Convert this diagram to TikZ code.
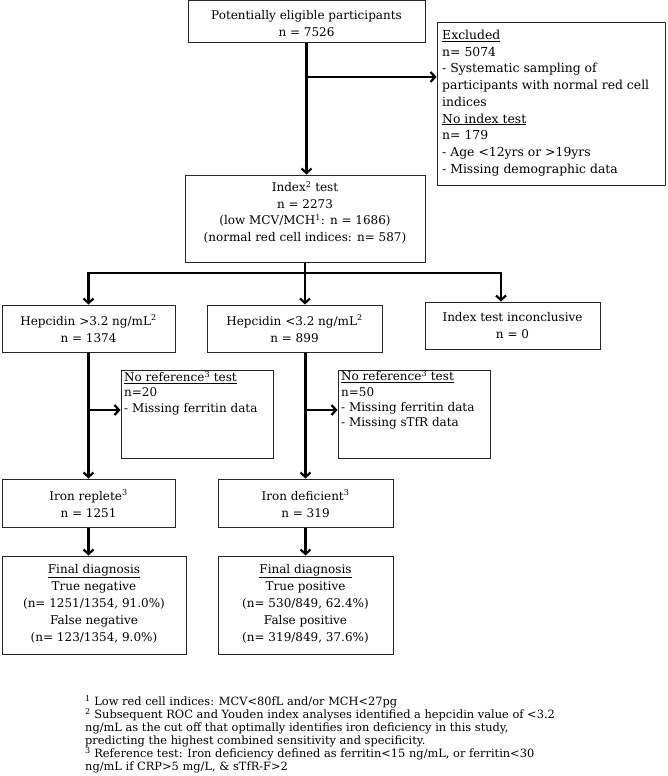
\documentclass[tikz,border=0pt]{standalone}
\usepackage{fontspec}
\setmainfont{DejaVu Serif}
\usetikzlibrary{arrows.meta,calc}
\begin{document}
\begin{tikzpicture}[x=1pt,y=-1pt,
  box/.style={draw=black!85, line width=1pt, inner sep=0pt, fill=white},
  txt/.style={inner sep=0pt, align=center, font=\fontsize{12}{17}\selectfont},
  ltxt/.style={inner sep=0pt, align=left, anchor=west},
  conn/.style={line width=2.2pt, line join=miter},
  arr/.style={conn, -{Straight Barb[length=4.5pt,width=10pt]}}]
\fill[white] (0,0) rectangle (667,776);
\useasboundingbox (0,0) rectangle (667,776);
% boxes
\node[box, minimum width=237pt, minimum height=42pt] (top)   at (306.5,22) {};
\node[box, minimum width=228pt, minimum height=162pt] (excl) at (551,104) {};
\node[box, minimum width=240pt, minimum height=87pt] (index) at (305,218.5) {};
\node[box, minimum width=173pt, minimum height=47pt] (hep1)  at (88.5,328.5) {};
\node[box, minimum width=175pt, minimum height=47pt] (hep2)  at (294.5,328.5) {};
\node[box, minimum width=175pt, minimum height=47pt] (inc)   at (512.5,325.5) {};
\node[box, minimum width=152pt, minimum height=88pt] (nr1)   at (197,414) {};
\node[box, minimum width=152pt, minimum height=88pt] (nr2)   at (414,414) {};
\node[box, minimum width=173pt, minimum height=48pt] (rep)   at (88.5,503) {};
\node[box, minimum width=175pt, minimum height=48pt] (def)   at (305.5,503) {};
\node[box, minimum width=184pt, minimum height=98pt] (fneg)  at (94,605) {};
\node[box, minimum width=175pt, minimum height=98pt] (fpos)  at (305.5,605) {};
% texts
\node[txt] (ttop) at (306.5,23.5) {Potentially eligible participants\\n = 7526};
\node[txt, ltxt, font=\fontsize{12.4}{16.75}\selectfont] (texcl) at (442,103)
  {\underline{Excluded}\\n= 5074\\- Systematic sampling of\\participants with normal red cell\\indices\\\underline{No index test}\\n= 179\\- Age <12yrs or >19yrs\\- Missing demographic data};
\node[txt, font=\fontsize{12}{16.5}\selectfont] (tindex) at (305,212.5)
  {Index\textsuperscript{2} test\\n = 2273\\(low MCV/MCH\textsuperscript{1}: n = 1686)\\(normal red cell indices: n= 587)};
\node[txt] (thep1) at (88.5,328.5) {Hepcidin >3.2 ng/mL\textsuperscript{2}\\n = 1374};
\node[txt] (thep2) at (294.5,328.5) {Hepcidin <3.2 ng/mL\textsuperscript{2}\\n = 899};
\node[txt] (tinc) at (512.5,325.5) {Index test inconclusive\\n = 0};
\node[txt, ltxt, font=\fontsize{12}{15.3}\selectfont] (tnr1) at (124,393)
  {\underline{No reference\textsuperscript{3} test}\\n=20\\- Missing ferritin data};
\node[txt, ltxt, font=\fontsize{12}{15.3}\selectfont] (tnr2) at (341,400)
  {\underline{No reference\textsuperscript{3} test}\\n=50\\- Missing ferritin data\\- Missing sTfR data};
\node[txt] (trep) at (88.5,503.5) {Iron replete\textsuperscript{3}\\n = 1251};
\node[txt] (tdef) at (305.5,503.5) {Iron deficient\textsuperscript{3}\\n = 319};
\node[txt] (tfneg) at (94,604) {\underline{Final diagnosis}\\True negative\\(n= 1251/1354, 91.0\%)\\False negative\\(n= 123/1354, 9.0\%)};
\node[txt] (tfpos) at (305.5,604) {\underline{Final diagnosis}\\True positive\\(n= 530/849, 62.4\%)\\False positive\\(n= 319/849, 37.6\%)};
\node[txt, ltxt, font=\fontsize{11.4}{13}\selectfont] (tfoot) at (85,734.5)
  {\textsuperscript{1} Low red cell indices: MCV<80fL and/or MCH<27pg\\
   \textsuperscript{2} Subsequent ROC and Youden index analyses identified a hepcidin value of <3.2\\
   ng/mL as the cut off that optimally identifies iron deficiency in this study,\\
   predicting the highest combined sensitivity and specificity.\\
   \textsuperscript{3} Reference test: Iron deficiency defined as ferritin<15 ng/mL, or ferritin<30\\
   ng/mL if CRP>5 mg/L, \& sTfR-F>2};
% connectors
\draw[arr] (top.south) -- (top.south |- index.north);
\coordinate (j1) at (top.south |- 0,77);
\draw[arr] (j1) -- (j1 -| excl.west);
\coordinate (b) at (index.south |- 0,273);
\draw[conn] (index.south) -- (b);
\draw[arr] (b) -| (hep1.north);
\draw[arr] (b) -- (b |- hep2.north);
\draw[arr] (b) -| ($(inc.north)+(-11.5,0)$);
\draw[arr] (hep1.south) -- (rep.north);
\coordinate (c1) at (hep1.south |- 0,410);
\draw[arr] (c1) -- (c1 -| nr1.west);
\coordinate (h2) at (hep2.south -| def.north);
\draw[arr] (h2) -- (def.north);
\coordinate (c2) at (h2 |- 0,410);
\draw[arr] (c2) -- (c2 -| nr2.west);
\draw[arr] (rep.south) -- (rep.south |- fneg.north);
\draw[arr] (def.south) -- (fpos.north);
\end{tikzpicture}
\end{document}
